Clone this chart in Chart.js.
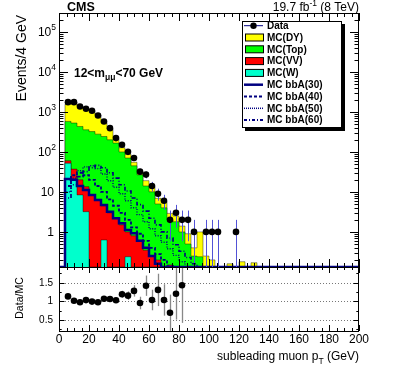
<!DOCTYPE html>
<html>
<head>
<meta charset="utf-8">
<script src="https://cdn.jsdelivr.net/npm/chart.js@4.4.0/dist/chart.umd.min.js"></script>
<style>
    html, body { margin: 0; padding: 0; background: #fff; }
    #wrap { position: relative; width: 399px; height: 383px; }
    #wrap canvas { position: absolute; left: 0; top: 0; }
</style>
</head>
<body>
<div id="wrap">
    <canvas id="mainChart" width="399" height="383"></canvas>
    <canvas id="ratioChart" width="399" height="383"></canvas>
</div>
<script>
const BIN_WIDTH = 4;
const X_MIN = 0;
const X_MAX = 200;
const Y_MIN = 0.133;
const Y_MAX = 2.93e5;
const RATIO_MIN = 0.2;
const RATIO_MAX = 1.92;

// bin i covers [4i, 4i+4] GeV, bins not listed are empty
const dataCounts = [0, 1740, 1740, 1350, 1190, 1060, 810, 570, 390, 220, 150, 100, 70, 32, 27, 14, 9, 6, 2, 3, 2, 2, 1, 0, 1, 1, 1, 0, 0, 1];
const mcDY = [0, 965, 1196, 960, 800, 750, 558, 292, 168, 49, 27, 17, 10, 7, 5, 3.5, 1.9, 1.8, 0.9, 0.7, 0.4, 0.4, 0.15, 0.76, 0.25, 0.2, 0, 0, 0.16, 0, 0.18, 0, 0.17];
const mcTop = [0, 515, 487, 410, 342, 312, 270, 237, 197, 163, 98, 69, 44, 26, 13.7, 9.8, 4.8, 4.0, 1.85, 1.8, 1.0, 0.5, 0.25, 0.24];
const mcVV = [0, 8, 17, 11.6, 10.3, 8.4, 6.5, 3.87, 3.0, 2.2, 1.5, 0.76, 0.8, 0.6, 0.35, 0.25, 0.2, 0, 0.15];
const mcW = [0, 52, 20, 8.4, 3.2, 0, 0, 0.63, 0, 0, 0, 0.24];
const sigBbA30 = [0, 21, 20, 14, 11.2, 8.4, 6.3, 4.7, 3.2, 2.2, 1.65, 1.12, 0.93, 0.6, 0.4, 0.25, 0.16];
const sigBbA40 = [0, 14, 26, 30, 26, 20, 14, 10, 6.5, 4.5, 3, 2, 1.3, 0.9, 0.6, 0.4, 0.28, 0.2, 0.14];
const sigBbA50 = [0, 10, 22, 34, 42, 45, 38, 28, 19, 13, 9, 6, 4, 2.7, 1.8, 1.2, 0.8, 0.55, 0.38, 0.26, 0.18];
const sigBbA60 = [0, 7, 15, 24, 32, 40, 46, 40, 30, 22, 15, 10.5, 7, 4.8, 3.3, 2.2, 1.5, 1.0, 0.7, 0.48, 0.33, 0.23, 0.16];

const xTickLabels = [0, 20, 40, 60, 80, 100, 120, 140, 160, 180, 200];
const yDecadeLabels = [[1, ''], [10, ''], [100, '2'], [1000, '3'], [10000, '4'], [100000, '5']];
const ratioTickLabels = [0.5, 1, 1.5];

const FONT = '"Liberation Sans", Arial, Helvetica, sans-serif';
const NAVY = '#000080';
const nBins = (X_MAX - X_MIN) / BIN_WIDTH;

function addBins(a, b) {
    let out = [];
    for (let i = 0; i < Math.max(a.length, b.length); i++) {
        out.push((a[i] || 0) + (b[i] || 0));
    }
    return out;
}

function histPoints(values) {
    let pts = [];
    for (let i = 0; i < nBins; i++) {
        let v = values[i] || 0;
        pts.push({ x: X_MIN + i * BIN_WIDTH, y: v > 0 ? v : Y_MIN });
    }
    pts.push({ x: X_MAX, y: pts[pts.length - 1].y });
    return pts;
}

const stackW = mcW;
const stackVV = addBins(stackW, mcVV);
const stackTop = addBins(stackVV, mcTop);
const stackDY = addBins(stackTop, mcDY);

let dataPoints = [];
let ratioPoints = [];
dataCounts.forEach((n, i) => {
    if (n <= 0) return;
    let centre = X_MIN + (i + 0.5) * BIN_WIDTH;
    dataPoints.push({ x: centre, y: n, err: Math.sqrt(n) });
    let mc = stackDY[i] || 0;
    if (mc > 0) {
        let r = n / mc;
        if (r >= RATIO_MIN && r <= RATIO_MAX) {
            ratioPoints.push({ x: centre, y: r, err: Math.sqrt(n) / mc });
        }
    }
});

function stackSet(label, values, color, order) {
    return {
        label: label, data: histPoints(values), stepped: true, fill: 'start',
        backgroundColor: color, borderColor: 'rgba(0,0,0,0.4)', borderWidth: 1,
        pointRadius: 0, order: order
    };
}

function sigSet(label, values, dash, width) {
    return {
        label: label, data: histPoints(values), stepped: true, fill: false,
        borderColor: NAVY, borderWidth: width, borderDash: dash,
        pointRadius: 0, order: 1
    };
}

function line(ctx, x1, y1, x2, y2) {
    ctx.beginPath();
    ctx.moveTo(x1, y1);
    ctx.lineTo(x2, y2);
    ctx.stroke();
}

function drawErrorBars(chart, meta, color, width) {
    const ctx = chart.ctx;
    const area = chart.chartArea;
    const ys = chart.scales.y;
    const raw = chart.data.datasets[meta.index].data;
    ctx.save();
    ctx.beginPath();
    ctx.rect(area.left, area.top, area.right - area.left, area.bottom - area.top);
    ctx.clip();
    ctx.strokeStyle = color;
    ctx.lineWidth = width;
    meta.data.forEach((pt, i) => {
        let lo = raw[i].y - raw[i].err;
        let hi = raw[i].y + raw[i].err;
        let yLo = lo > ys.min ? ys.getPixelForValue(lo) : area.bottom;
        let yHi = hi < ys.max ? ys.getPixelForValue(hi) : area.top;
        let px = Math.round(pt.x) + 0.5;
        line(ctx, px, yLo, px, yHi);
    });
    ctx.restore();
}

function drawXTicks(ctx, chart, majLen, minLen) {
    const area = chart.chartArea;
    const xs = chart.scales.x;
    for (let v = X_MIN; v <= X_MAX; v += 5) {
        let px = Math.round(xs.getPixelForValue(v)) + 0.5;
        let len = v % 20 === 0 ? majLen : minLen;
        line(ctx, px, area.bottom, px, area.bottom - len);
        line(ctx, px, area.top, px, area.top + len);
    }
}

function drawFrame(ctx, area) {
    ctx.strokeRect(area.left + 0.5, area.top + 0.5, area.right - area.left - 1, area.bottom - area.top);
}

function textWithScript(ctx, parts, x, y, align) {
    // parts: [text, font, dy]
    let total = 0;
    parts.forEach(p => { ctx.font = p[1]; total += ctx.measureText(p[0]).width; });
    let cx = align === 'right' ? x - total : x;
    ctx.textAlign = 'left';
    parts.forEach(p => {
        ctx.font = p[1];
        ctx.fillText(p[0], cx, y + p[2]);
        cx += ctx.measureText(p[0]).width;
    });
}

const mainDecor = {
    id: 'mainDecor',
    beforeDatasetDraw(chart, args) {
        if (args.index === 0) drawErrorBars(chart, args.meta, '#5252d6', 1);
    },
    afterDraw(chart) {
        const ctx = chart.ctx;
        const area = chart.chartArea;
        const ys = chart.scales.y;
        ctx.save();
        ctx.strokeStyle = '#000';
        ctx.fillStyle = '#000';
        ctx.lineWidth = 1;
        drawFrame(ctx, area);
        drawXTicks(ctx, chart, 8, 4);

        for (let d = -1; d <= 5; d++) {
            for (let m = 1; m <= 9; m++) {
                let v = m * Math.pow(10, d);
                if (v < Y_MIN || v > Y_MAX) continue;
                let py = Math.round(ys.getPixelForValue(v)) + 0.5;
                let len = m === 1 ? 9 : 4.5;
                line(ctx, area.left, py, area.left + len, py);
                line(ctx, area.right, py, area.right - len, py);
            }
        }

        ctx.textBaseline = 'middle';
        yDecadeLabels.forEach(([v, sup]) => {
            let py = ys.getPixelForValue(v) + 1;
            if (sup) {
                textWithScript(ctx, [['10', '12px ' + FONT, 0], [sup, '8.5px ' + FONT, -5]], 56, py, 'right');
            } else {
                textWithScript(ctx, [[String(v), '12px ' + FONT, 0]], 54, py, 'right');
            }
        });

        ctx.textBaseline = 'alphabetic';
        ctx.save();
        ctx.translate(25.5, 15);
        ctx.rotate(-Math.PI / 2);
        ctx.font = '14px ' + FONT;
        ctx.textAlign = 'right';
        ctx.fillText('Events/4 GeV', 0, 0);
        ctx.restore();

        textWithScript(ctx, [['CMS', 'bold 12.5px ' + FONT, 0]], 67, 11, 'left');
        textWithScript(ctx, [['19.7 fb', '12px ' + FONT, 0], ['-1', '8.5px ' + FONT, -5], [' (8 TeV)', '12px ' + FONT, 0]], 359, 11, 'right');
        textWithScript(ctx, [['12<m', 'bold 12px ' + FONT, 0], ['\u03bc\u03bc', 'bold 8.5px ' + FONT, 3], ['<70 GeV', 'bold 12px ' + FONT, 0]], 74, 77, 'left');

        // legend
        const lx = 242, ly = 21, lw = 100, lh = 107;
        ctx.fillStyle = '#000';
        ctx.fillRect(lx + 3, ly + 3, lw, lh);
        ctx.fillStyle = '#fff';
        ctx.fillRect(lx, ly, lw, lh);
        ctx.strokeRect(lx + 0.5, ly + 0.5, lw - 1, lh - 1);

        const entries = [
            ['Data', 'data'],
            ['MC(DY)', 'box', '#ffff00'],
            ['MC(Top)', 'box', '#00ff00'],
            ['MC(VV)', 'box', '#ff0000'],
            ['MC(W)', 'box', '#00ffcc'],
            ['MC bbA(30)', 'line', [], 2.5],
            ['MC bbA(40)', 'line', [3, 2], 2],
            ['MC bbA(50)', 'line', [1, 1], 1.5],
            ['MC bbA(60)', 'line', [3, 2, 1, 2], 2]
        ];
        entries.forEach((e, k) => {
            let cy = 25.7 + k * 11.8;
            if (e[1] === 'data') {
                ctx.strokeStyle = NAVY;
                ctx.lineWidth = 1;
                line(ctx, 244, cy, 263, cy);
                ctx.fillStyle = '#000';
                ctx.beginPath();
                ctx.arc(253.5, cy, 3.2, 0, Math.PI * 2);
                ctx.fill();
            } else if (e[1] === 'box') {
                ctx.fillStyle = e[2];
                ctx.fillRect(245, cy - 3.5, 18, 7);
                ctx.strokeStyle = '#000';
                ctx.lineWidth = 1;
                ctx.strokeRect(245.5, cy - 3.5, 18, 7);
            } else {
                ctx.strokeStyle = NAVY;
                ctx.lineWidth = e[3];
                ctx.setLineDash(e[2]);
                line(ctx, 244, cy, 263, cy);
                ctx.setLineDash([]);
            }
            ctx.fillStyle = '#000';
            ctx.textBaseline = 'middle';
            textWithScript(ctx, [[e[0], 'bold 10px ' + FONT, 0.5]], 267, cy, 'left');
        });
        ctx.restore();
    }
};

const ratioDecor = {
    id: 'ratioDecor',
    beforeDatasetsDraw(chart) {
        const ctx = chart.ctx;
        const area = chart.chartArea;
        const ys = chart.scales.y;
        ctx.save();
        ctx.strokeStyle = '#777';
        ctx.lineWidth = 1;
        ctx.setLineDash([1, 2]);
        ratioTickLabels.forEach(v => {
            let py = Math.round(ys.getPixelForValue(v)) + 0.5;
            line(ctx, area.left, py, area.right, py);
        });
        ctx.restore();
    },
    beforeDatasetDraw(chart, args) {
        if (args.index === 0) drawErrorBars(chart, args.meta, '#888', 1.3);
    },
    afterDraw(chart) {
        const ctx = chart.ctx;
        const area = chart.chartArea;
        const xs = chart.scales.x;
        const ys = chart.scales.y;
        ctx.save();
        ctx.strokeStyle = '#000';
        ctx.fillStyle = '#000';
        ctx.lineWidth = 1;
        drawFrame(ctx, area);
        drawXTicks(ctx, chart, 6, 3);
        for (let v = 0.25; v < RATIO_MAX; v += 0.25) {
            let py = Math.round(ys.getPixelForValue(v)) + 0.5;
            let len = (v * 2) % 1 === 0 ? 5.5 : 2.7;
            line(ctx, area.left, py, area.left + len, py);
            line(ctx, area.right, py, area.right - len, py);
        }

        ctx.font = '10px ' + FONT;
        ctx.textAlign = 'right';
        ctx.textBaseline = 'middle';
        ratioTickLabels.forEach(v => {
            ctx.fillText(String(v), 53, ys.getPixelForValue(v) + 0.5);
        });

        ctx.font = '12px ' + FONT;
        ctx.textAlign = 'center';
        ctx.textBaseline = 'top';
        xTickLabels.forEach(v => {
            ctx.fillText(String(v), xs.getPixelForValue(v), 333.5);
        });

        ctx.textBaseline = 'alphabetic';
        textWithScript(ctx, [['subleading muon p', '12px ' + FONT, 0], ['T', '8.5px ' + FONT, 4], [' (GeV)', '12px ' + FONT, 0]], 359, 360, 'right');

        ctx.save();
        ctx.translate(22.5, 298);
        ctx.rotate(-Math.PI / 2);
        ctx.font = '10.5px ' + FONT;
        ctx.textAlign = 'center';
        ctx.fillText('Data/MC', 0, 0);
        ctx.restore();
        ctx.restore();
    }
};

new Chart(document.getElementById('mainChart'), {
    type: 'line',
    data: {
        datasets: [
            {
                label: 'Data', data: dataPoints, showLine: false, order: 0,
                pointRadius: 3.3, pointBackgroundColor: '#000', pointBorderWidth: 0
            },
            sigSet('MC bbA(30)', sigBbA30, [], 2.5),
            sigSet('MC bbA(40)', sigBbA40, [3, 2], 1.8),
            sigSet('MC bbA(50)', sigBbA50, [1, 1.5], 1.4),
            sigSet('MC bbA(60)', sigBbA60, [4, 2, 1, 2], 1.6),
            stackSet('MC(W)', stackW, '#00ffcc', 2),
            stackSet('MC(VV)', stackVV, '#ff0000', 3),
            stackSet('MC(Top)', stackTop, '#00ff00', 4),
            stackSet('MC(DY)', stackDY, '#ffff00', 5)
        ]
    },
    options: {
        responsive: false,
        animation: false,
        layout: { padding: { left: 59, right: 40, top: 13, bottom: 116 } },
        scales: {
            x: { type: 'linear', min: X_MIN, max: X_MAX, display: false },
            y: { type: 'logarithmic', min: Y_MIN, max: Y_MAX, display: false }
        },
        plugins: { legend: { display: false }, tooltip: { enabled: false } }
    },
    plugins: [mainDecor]
});

new Chart(document.getElementById('ratioChart'), {
    type: 'line',
    data: {
        datasets: [{
            label: 'Data/MC', data: ratioPoints, showLine: false,
            pointRadius: 3.3, pointBackgroundColor: '#000', pointBorderWidth: 0
        }]
    },
    options: {
        responsive: false,
        animation: false,
        layout: { padding: { left: 59, right: 40, top: 267, bottom: 52 } },
        scales: {
            x: { type: 'linear', min: X_MIN, max: X_MAX, display: false },
            y: { type: 'linear', min: RATIO_MIN, max: RATIO_MAX, display: false }
        },
        plugins: { legend: { display: false }, tooltip: { enabled: false } }
    },
    plugins: [ratioDecor]
});
</script>
</body>
</html>
